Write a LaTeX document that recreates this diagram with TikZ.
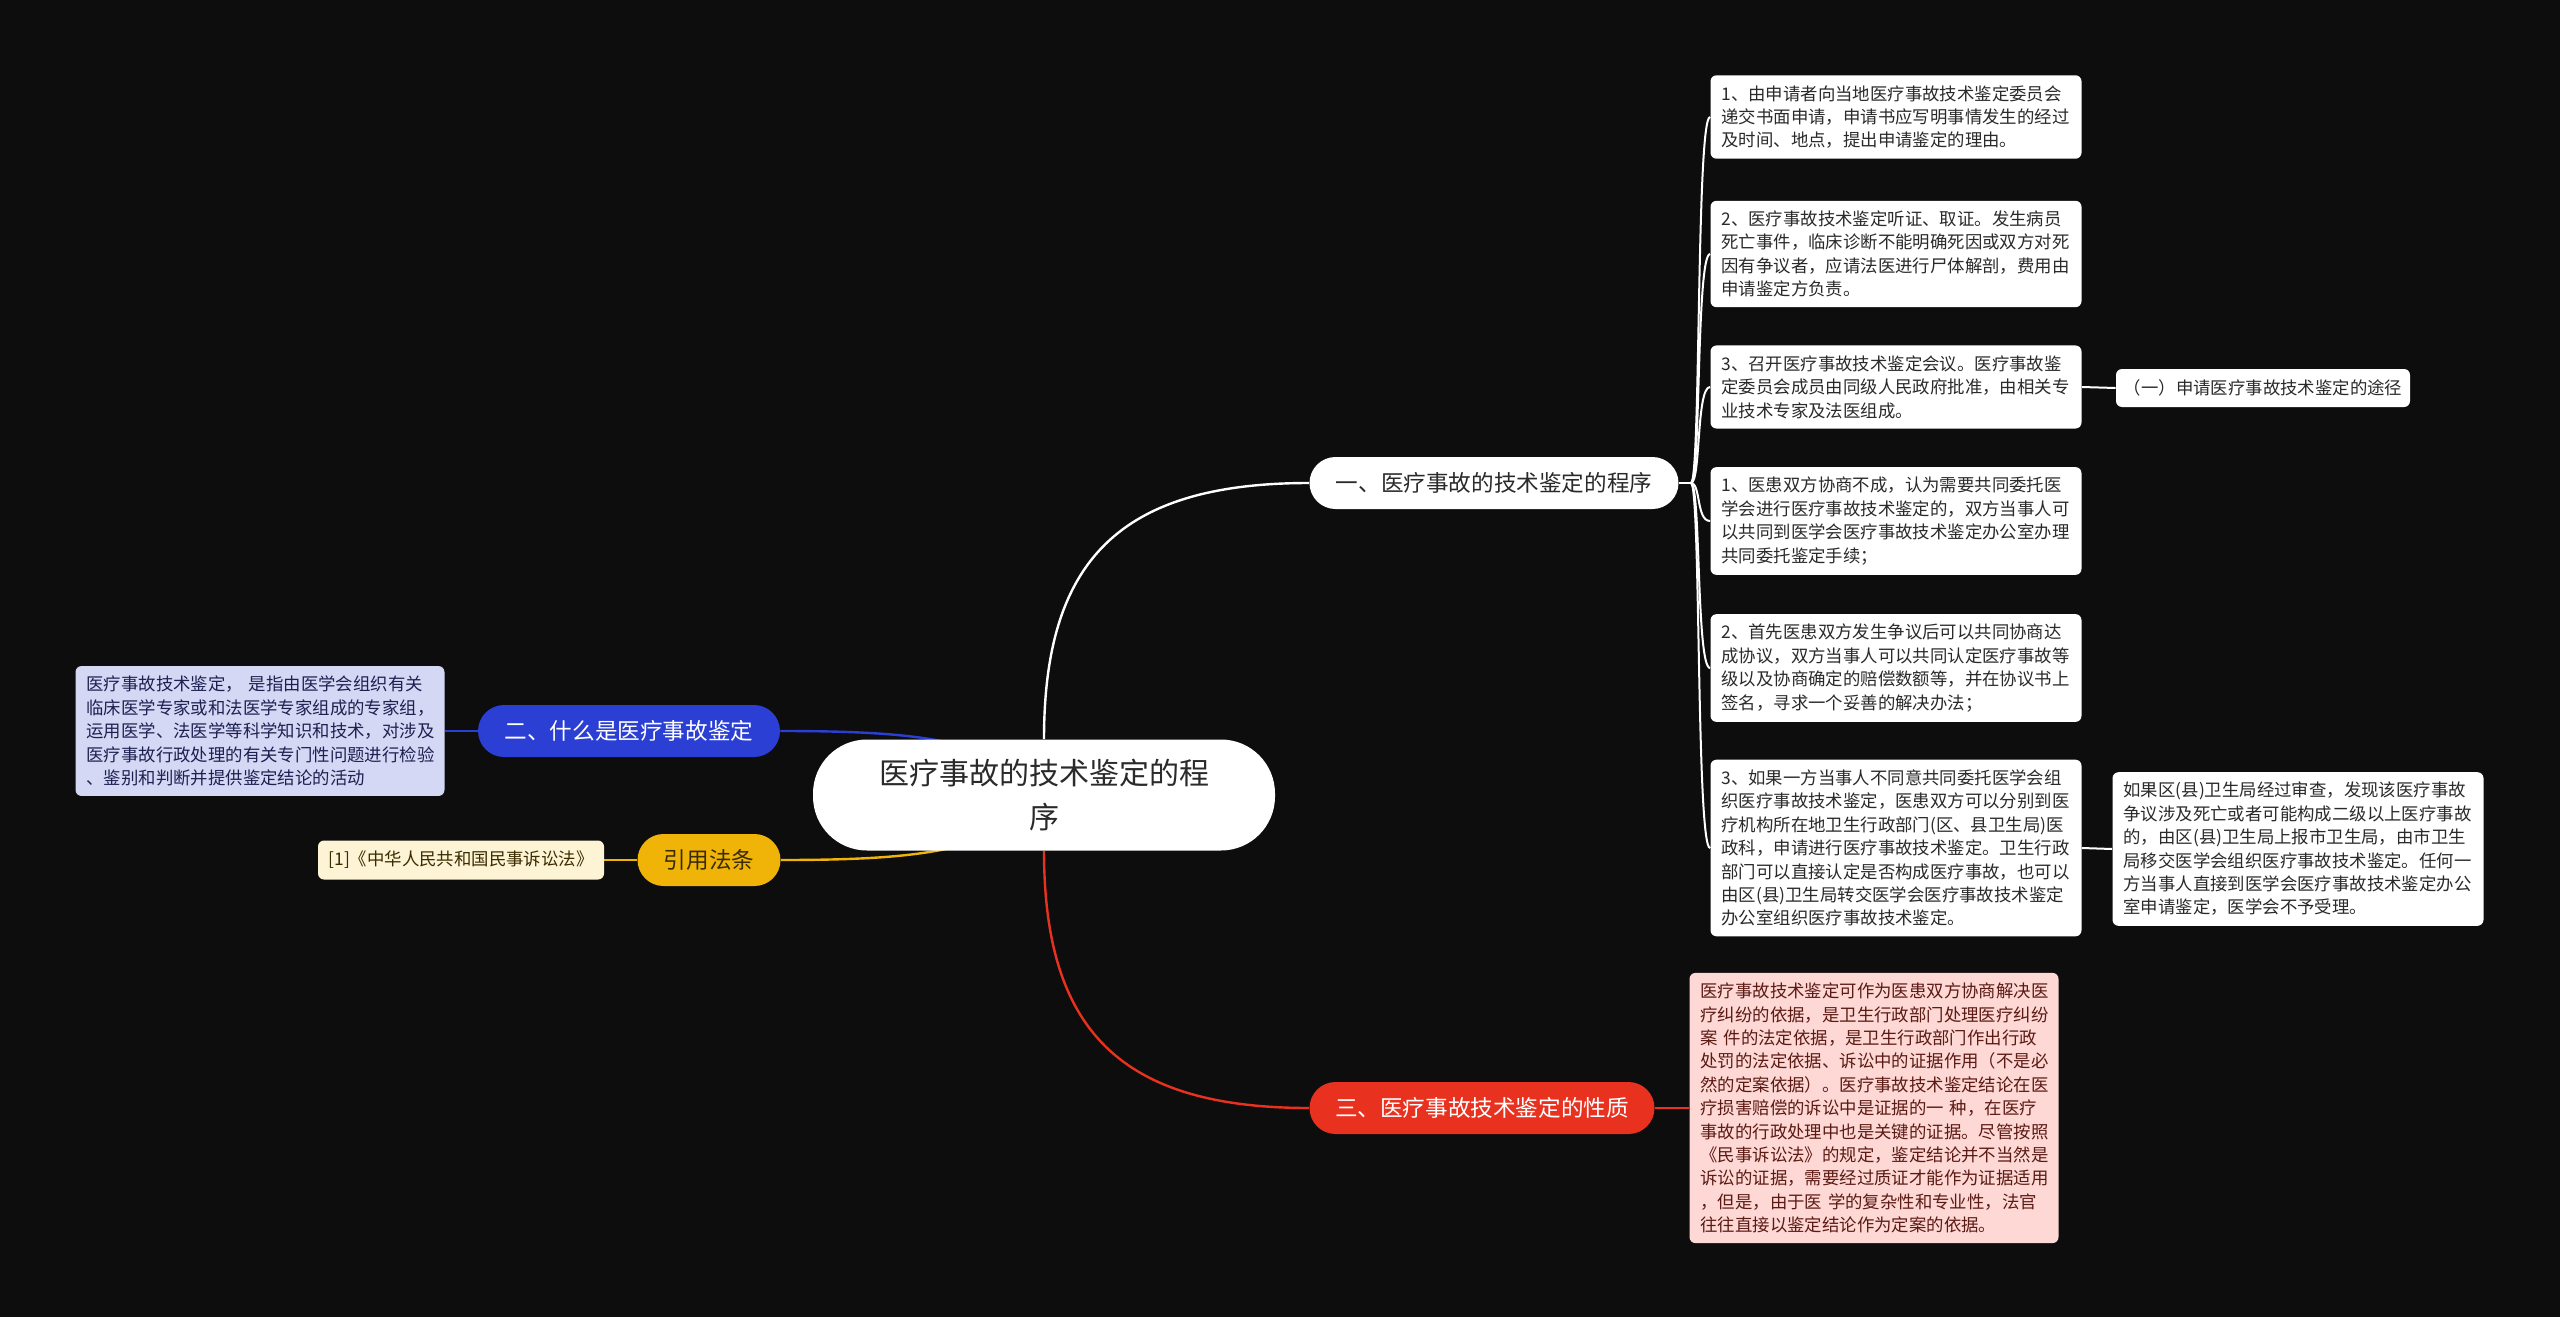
\documentclass[tikz,border=0pt]{standalone}
\usepackage{fontspec}
\setmainfont{Noto Sans CJK SC}
\usepackage{tikz}

\definecolor{bgcol}{HTML}{0D0D0D}
\definecolor{darktext}{HTML}{2A2A2A}
\definecolor{redtopic}{HTML}{E8321F}
\definecolor{bluetopic}{HTML}{2B3FD4}
\definecolor{yellowtopic}{HTML}{F0B409}
\definecolor{pinkleaf}{HTML}{FDD8D4}
\definecolor{pinktext}{HTML}{5C1A14}
\definecolor{blueleaf}{HTML}{D5D8F5}
\definecolor{bluetext}{HTML}{1C2150}
\definecolor{creamleaf}{HTML}{FDF3D5}
\definecolor{creamtext}{HTML}{3B2C00}

\pgfdeclarelayer{bglayer}
\pgfdeclarelayer{edgelayer}
\pgfsetlayers{bglayer,edgelayer,main}

\begin{document}
\begin{tikzpicture}[x=0.5pt, y=-0.5pt,
    root/.style={fill=white, text=darktext, rounded corners=27pt, minimum width=231pt,
      minimum height=55.5pt, text width=168pt, align=center,
      font=\fontsize{15pt}{21.7pt}\selectfont},
    topic/.style={rounded corners=13pt, minimum height=26pt, inner xsep=0pt,
      font=\fontsize{11.3pt}{13pt}\selectfont},
    leaf/.style={rounded corners=3pt, align=left, inner xsep=5.5pt, inner ysep=5pt,
      font=\fontsize{8.7pt}{11.7pt}\selectfont},
    wleaf/.style={leaf, fill=white, text=darktext, text width=174.5pt},
    link/.style={line width=1.2pt},
    twig/.style={line width=1pt}]

  % background
  \begin{pgfonlayer}{bglayer}
    \fill[bgcol] (0,0) rectangle (2560,1317);
  \end{pgfonlayer}

  % root and main topics
  \node[root] (c) at (1044,795) {医疗事故的技术鉴定的程\\序};
  \node[topic, fill=white, text=darktext, minimum width=184.5pt] (b1) at (1494,483) {一、医疗事故的技术鉴定的程序};
  \node[topic, fill=redtopic, text=white, minimum width=172.5pt] (b3) at (1482,1108) {三、医疗事故技术鉴定的性质};
  \node[topic, fill=bluetopic, text=white, minimum width=151pt] (b2) at (629,731) {二、什么是医疗事故鉴定};
  \node[topic, fill=yellowtopic, text=creamtext, minimum width=71.5pt] (b4) at (709,860) {引用法条};

  % procedure leaves
  \node[wleaf] (p1) at (1896,117) {1、由申请者向当地医疗事故技术鉴定委员会\\递交书面申请，申请书应写明事情发生的经过\\及时间、地点，提出申请鉴定的理由。};
  \node[wleaf] (p2) at (1896,254) {2、医疗事故技术鉴定听证、取证。发生病员\\死亡事件，临床诊断不能明确死因或双方对死\\因有争议者，应请法医进行尸体解剖，费用由\\申请鉴定方负责。};
  \node[wleaf] (p3) at (1896,387) {3、召开医疗事故技术鉴定会议。医疗事故鉴\\定委员会成员由同级人民政府批准，由相关专\\业技术专家及法医组成。};
  \node[wleaf] (p4) at (1896,521) {1、医患双方协商不成，认为需要共同委托医\\学会进行医疗事故技术鉴定的，双方当事人可\\以共同到医学会医疗事故技术鉴定办公室办理\\共同委托鉴定手续；};
  \node[wleaf] (p5) at (1896,668) {2、首先医患双方发生争议后可以共同协商达\\成协议，双方当事人可以共同认定医疗事故等\\级以及协商确定的赔偿数额等，并在协议书上\\签名，寻求一个妥善的解决办法；};
  \node[wleaf] (p6) at (1896,848) {3、如果一方当事人不同意共同委托医学会组\\织医疗事故技术鉴定，医患双方可以分别到医\\疗机构所在地卫生行政部门(区、县卫生局)医\\政科，申请进行医疗事故技术鉴定。卫生行政\\部门可以直接认定是否构成医疗事故，也可以\\由区(县)卫生局转交医学会医疗事故技术鉴定\\办公室组织医疗事故技术鉴定。};
  \node[leaf, fill=white, text=darktext, minimum width=147pt, minimum height=19pt, align=center, inner xsep=0pt, inner ysep=0pt] (p3a) at (2263,388) {（一）申请医疗事故技术鉴定的途径};
  \node[wleaf] (p6a) at (2298,849) {如果区(县)卫生局经过审查，发现该医疗事故\\争议涉及死亡或者可能构成二级以上医疗事故\\的，由区(县)卫生局上报市卫生局，由市卫生\\局移交医学会组织医疗事故技术鉴定。任何一\\方当事人直接到医学会医疗事故技术鉴定办公\\室申请鉴定，医学会不予受理。};

  % other leaves
  \node[leaf, fill=pinkleaf, text=pinktext, text width=173.5pt] (q1) at (1874,1108) {医疗事故技术鉴定可作为医患双方协商解决医\\疗纠纷的依据，是卫生行政部门处理医疗纠纷\\案 件的法定依据，是卫生行政部门作出行政\\处罚的法定依据、诉讼中的证据作用（不是必\\然的定案依据）。医疗事故技术鉴定结论在医\\疗损害赔偿的诉讼中是证据的一 种，在医疗\\事故的行政处理中也是关键的证据。尽管按照\\《民事诉讼法》的规定，鉴定结论并不当然是\\诉讼的证据，需要经过质证才能作为证据适用\\，但是，由于医 学的复杂性和专业性，法官\\往往直接以鉴定结论作为定案的依据。};
  \node[leaf, fill=blueleaf, text=bluetext, text width=173.5pt] (d1) at (260,731) {医疗事故技术鉴定， 是指由医学会组织有关\\临床医学专家或和法医学专家组成的专家组，\\运用医学、法医学等科学知识和技术，对涉及\\医疗事故行政处理的有关专门性问题进行检验\\、鉴别和判断并提供鉴定结论的活动};
  \node[leaf, fill=creamleaf, text=creamtext, minimum width=143pt, minimum height=19.5pt, align=center, inner xsep=0pt, inner ysep=0pt] (r1) at (461,860) {[1]《中华人民共和国民事诉讼法》};

  % connectors
  \begin{pgfonlayer}{edgelayer}
    \draw[link, white] (c.north) .. controls (1044,560) and (1120,483) .. (b1.west);
    \draw[link, redtopic] (c.south) .. controls (1044,1030) and (1120,1108) .. (b3.west);
    \draw[link, bluetopic] (b2.east) .. controls (920,731) and (1000,740) .. (c.center);
    \draw[link, yellowtopic] (b4.east) .. controls (920,860) and (1000,851) .. (c.center);

    \coordinate (b1out) at ([xshift=6pt]b1.east);
    \draw[twig, white] (b1.east) -- (b1out);
    \foreach \leafname in {p1,p2,p3,p4,p5,p6}
      \draw[twig, white] (b1out) .. controls ([xshift=5pt]b1out) and ([xshift=-7pt]\leafname.west) .. (\leafname.west);
    \draw[twig, white] (p3.east) -- (p3a.west);
    \draw[twig, white] (p6.east) -- (p6a.west);
    \draw[twig, redtopic] (b3.east) -- (q1.west);
    \draw[twig, bluetopic] (b2.west) -- (d1.east);
    \draw[twig, yellowtopic] (b4.west) -- (r1.east);
  \end{pgfonlayer}
\end{tikzpicture}
\end{document}
